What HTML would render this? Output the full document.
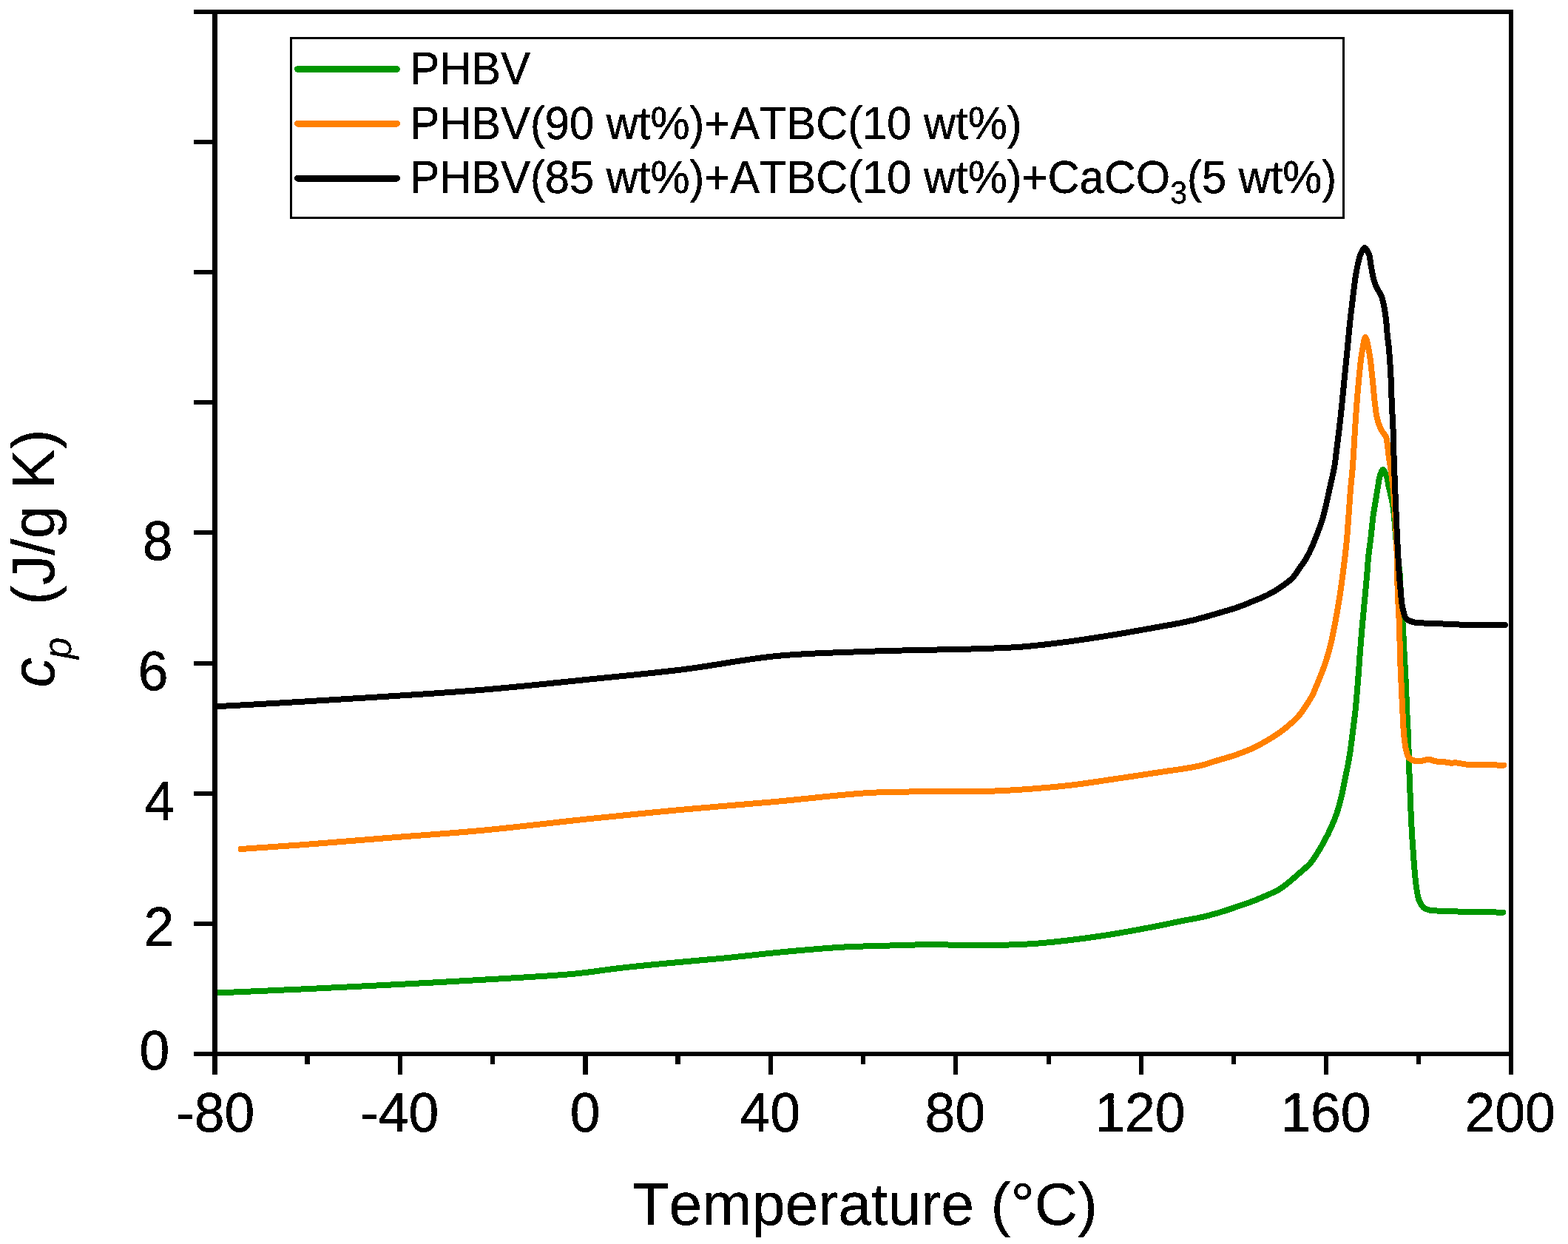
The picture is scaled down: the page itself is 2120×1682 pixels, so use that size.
<!DOCTYPE html>
<html lang="en"><head><meta charset="utf-8"><title>Specific heat capacity of PHBV blends</title>
<style>
html,body{margin:0;padding:0;background:#fff;}
body{width:2120px;height:1682px;overflow:hidden;}
svg{display:block;}
text{font-family:"Liberation Sans",Arial,Helvetica,sans-serif;fill:#000;font-kerning:none;font-variant-ligatures:none;text-rendering:geometricPrecision;}
.tk{font-size:73.33px;stroke:#000;stroke-width:0.5px;}
.lg{font-size:59.67px;stroke:#000;stroke-width:0.4px;}
.ax{font-size:80.7px;stroke:#000;stroke-width:0.3px;}
.c{fill:none;stroke-width:8;stroke-linejoin:round;stroke-linecap:round;}
</style></head><body>
<svg xmlns="http://www.w3.org/2000/svg" width="2120" height="1682" viewBox="0 0 2120 1682">
<rect x="0" y="0" width="2120" height="1682" fill="#fff"/>

<defs><filter id="bw" x="-10%" y="-10%" width="120%" height="120%" color-interpolation-filters="sRGB"><feComponentTransfer><feFuncA type="discrete" tableValues="0 1"/></feComponentTransfer></filter></defs>
<defs><clipPath id="plot"><rect x="287" y="16.0" width="1759" height="1409.0"/></clipPath></defs>
<g clip-path="url(#plot)" shape-rendering="crispEdges">
<path class="c" stroke="#009600" d="M288.0,1342.7 C329.3,1340.9 370.0,1339.3 412.0,1337.3 C455.3,1335.3 500.0,1333.0 544.0,1330.7 C588.0,1328.4 635.2,1325.9 676.0,1323.4 C711.4,1321.2 745.4,1319.6 775.0,1316.8 C799.3,1314.5 819.0,1311.1 841.0,1308.6 C863.0,1306.1 884.4,1304.1 907.0,1302.0 C930.7,1299.7 955.2,1297.8 980.0,1295.4 C1005.8,1292.9 1032.4,1289.6 1059.0,1287.1 C1086.2,1284.6 1117.6,1281.8 1141.6,1280.5 C1160.2,1279.5 1173.3,1279.4 1191.0,1278.9 C1211.4,1278.3 1235.0,1277.3 1257.0,1277.2 C1279.0,1277.1 1301.0,1278.3 1323.0,1278.2 C1345.0,1278.1 1370.8,1277.5 1389.0,1276.5 C1401.9,1275.8 1409.1,1275.2 1422.0,1273.9 C1440.2,1272.0 1466.0,1268.9 1488.0,1265.6 C1510.1,1262.3 1534.3,1257.9 1554.3,1254.1 C1571.0,1251.0 1587.2,1247.3 1600.0,1244.8 C1609.2,1243.0 1615.9,1242.1 1623.8,1240.3 C1631.8,1238.5 1639.7,1236.4 1647.6,1234.1 C1655.6,1231.8 1663.5,1229.0 1671.4,1226.3 C1679.3,1223.6 1687.7,1220.9 1695.1,1218.0 C1701.9,1215.4 1708.3,1212.5 1714.2,1209.9 C1719.3,1207.6 1723.8,1205.9 1728.4,1203.2 C1733.3,1200.3 1738.0,1196.5 1742.7,1192.8 C1747.6,1188.9 1752.3,1184.6 1757.0,1180.4 C1761.8,1176.2 1767.4,1171.9 1771.3,1167.5 C1774.6,1163.8 1776.5,1160.6 1779.3,1156.3 C1782.8,1150.9 1787.0,1143.7 1790.5,1137.3 C1793.9,1131.0 1797.1,1124.6 1800.0,1118.2 C1802.8,1111.9 1805.4,1105.4 1807.6,1099.0 C1809.7,1092.7 1811.3,1086.9 1813.0,1080.0 C1815.0,1071.9 1816.8,1061.4 1818.5,1053.2 C1819.9,1046.3 1821.3,1040.6 1822.5,1034.2 C1823.7,1027.9 1824.7,1021.5 1825.7,1015.1 C1826.6,1008.8 1827.3,1003.5 1828.2,996.1 C1829.5,985.6 1831.5,970.8 1832.8,958.1 C1834.1,945.4 1835.1,932.5 1836.1,920.0 C1837.1,907.9 1837.8,896.3 1838.7,884.2 C1839.7,871.7 1840.7,858.8 1841.8,846.1 C1842.9,833.4 1844.3,820.3 1845.4,808.1 C1846.5,796.7 1847.6,784.9 1848.4,775.0 C1849.1,767.0 1849.4,760.2 1850.1,753.2 C1850.8,746.6 1851.7,740.5 1852.5,734.2 C1853.3,727.8 1854.0,721.5 1854.7,715.1 C1855.4,708.8 1855.9,702.4 1856.8,696.1 C1857.7,689.8 1858.9,683.4 1859.9,677.1 C1860.9,670.8 1862.0,664.0 1863.0,658.1 C1863.9,653.0 1864.3,647.9 1865.6,643.8 C1866.7,640.4 1868.4,635.0 1869.9,635.0 C1871.4,635.0 1873.4,640.4 1874.7,643.8 C1876.2,647.9 1876.6,653.0 1877.7,658.1 C1879.0,664.0 1880.8,670.7 1882.0,677.1 C1883.2,683.4 1884.1,689.8 1884.8,696.1 C1885.5,702.4 1885.7,707.8 1886.3,715.1 C1887.1,725.0 1888.3,738.8 1889.5,750.0 C1890.6,760.3 1892.3,771.0 1893.0,779.8 C1893.5,786.7 1893.3,790.8 1893.7,798.5 C1894.3,810.7 1895.9,831.1 1896.8,846.1 C1897.6,859.5 1898.0,871.3 1898.7,884.2 C1899.4,897.6 1900.3,912.1 1900.9,925.0 C1901.4,936.6 1901.6,946.7 1902.1,958.1 C1902.6,970.3 1903.5,983.4 1904.0,996.1 C1904.5,1008.8 1904.8,1023.7 1905.1,1034.2 C1905.3,1041.6 1905.5,1046.3 1905.8,1053.2 C1906.1,1061.4 1906.4,1070.3 1906.8,1080.0 C1907.3,1091.6 1907.8,1105.4 1908.5,1118.1 C1909.2,1130.8 1910.1,1144.3 1911.0,1156.1 C1911.7,1166.3 1912.4,1176.1 1913.3,1184.7 C1914.0,1191.7 1914.6,1197.8 1915.6,1203.7 C1916.5,1208.8 1917.2,1214.0 1918.9,1218.0 C1920.3,1221.3 1921.8,1224.4 1924.1,1226.5 C1926.2,1228.4 1929.0,1229.5 1931.8,1230.3 C1934.7,1231.2 1937.6,1231.1 1941.3,1231.4 C1946.5,1231.8 1953.7,1231.7 1960.3,1232.0 C1967.4,1232.3 1973.6,1232.7 1982.5,1233.0 C1995.7,1233.4 2015.5,1233.4 2032.0,1233.6"/>
<path class="c" stroke="#ff8000" d="M325.5,1148.0 C354.3,1146.0 380.9,1144.3 412.0,1142.0 C448.3,1139.3 490.1,1135.7 530.0,1132.5 C571.1,1129.2 611.8,1126.6 655.0,1122.5 C701.6,1118.1 753.4,1111.6 800.0,1106.8 C843.2,1102.3 883.3,1098.3 925.0,1094.5 C966.7,1090.7 1008.3,1087.5 1050.0,1083.8 C1091.7,1080.0 1138.6,1074.1 1175.0,1072.0 C1203.1,1070.4 1224.6,1070.6 1250.0,1070.3 C1276.2,1070.0 1306.1,1070.6 1330.0,1070.0 C1349.3,1069.5 1364.3,1068.7 1382.5,1067.5 C1402.4,1066.1 1424.2,1064.4 1445.0,1062.0 C1465.9,1059.6 1486.7,1056.3 1507.5,1053.2 C1528.3,1050.2 1552.9,1046.3 1570.0,1043.8 C1581.8,1042.0 1590.6,1041.0 1600.0,1039.4 C1608.4,1038.0 1615.9,1036.9 1623.8,1035.0 C1631.8,1033.0 1639.7,1030.1 1647.6,1027.7 C1655.5,1025.3 1663.5,1023.3 1671.4,1020.5 C1679.4,1017.7 1687.7,1014.5 1695.1,1011.0 C1701.9,1007.8 1707.9,1004.4 1714.2,1000.6 C1720.6,996.8 1727.4,992.5 1733.2,988.2 C1738.4,984.3 1743.3,980.2 1747.5,976.3 C1751.1,973.0 1753.7,970.6 1757.0,966.6 C1761.3,961.4 1767.0,952.5 1770.3,947.1 C1772.6,943.4 1774.1,940.8 1775.6,937.6 C1777.1,934.5 1778.2,931.3 1779.5,928.1 C1780.8,924.9 1782.1,922.1 1783.5,918.5 C1785.3,914.0 1787.6,908.6 1789.5,903.2 C1791.6,897.2 1793.8,890.6 1795.7,884.2 C1797.5,877.9 1799.1,871.5 1800.6,865.1 C1802.0,858.8 1803.0,853.5 1804.4,846.1 C1806.4,835.6 1809.2,820.3 1811.1,808.1 C1812.9,796.7 1814.2,786.6 1815.7,775.0 C1817.4,762.1 1819.2,747.6 1820.5,734.2 C1821.8,721.3 1822.5,708.8 1823.5,696.1 C1824.5,683.4 1825.3,669.8 1826.3,658.1 C1827.2,648.0 1828.2,640.4 1829.0,629.8 C1830.0,616.4 1830.9,598.7 1831.8,584.2 C1832.7,570.9 1833.4,558.8 1834.4,546.1 C1835.4,533.4 1836.5,520.2 1837.7,508.1 C1838.8,496.9 1839.9,485.4 1841.5,476.0 C1842.8,468.5 1844.5,456.0 1846.1,456.0 C1847.7,456.0 1849.8,468.5 1851.2,476.0 C1853.0,485.4 1853.9,496.9 1855.2,508.1 C1856.6,520.2 1857.7,535.6 1859.0,546.1 C1859.9,553.5 1860.6,559.9 1861.8,565.1 C1862.6,568.9 1863.5,571.6 1864.7,574.7 C1866.0,577.9 1867.7,581.4 1869.4,584.2 C1870.8,586.7 1872.8,588.1 1873.9,590.8 C1875.3,594.2 1875.5,598.9 1876.1,603.2 C1876.8,607.8 1877.1,613.2 1877.7,617.5 C1878.2,621.0 1878.7,622.9 1879.3,627.0 C1880.4,634.4 1882.3,647.2 1883.4,658.1 C1884.6,670.1 1885.5,683.4 1886.3,696.1 C1887.1,708.8 1887.7,721.3 1888.2,734.2 C1888.7,747.6 1888.8,762.1 1889.1,775.0 C1889.4,786.6 1889.6,796.7 1890.1,808.1 C1890.6,820.3 1891.5,833.4 1892.0,846.1 C1892.5,858.8 1892.5,871.3 1892.9,884.2 C1893.3,897.6 1894.0,912.1 1894.6,925.0 C1895.1,936.6 1895.6,946.7 1896.2,958.1 C1896.8,970.3 1897.3,985.6 1898.4,996.1 C1899.2,1003.5 1899.9,1009.9 1901.3,1015.1 C1902.3,1018.9 1903.0,1022.4 1905.1,1024.7 C1907.0,1026.8 1909.9,1028.0 1912.7,1028.7 C1915.6,1029.4 1919.0,1029.0 1922.2,1028.7 C1925.4,1028.4 1928.5,1026.7 1931.7,1026.8 C1934.9,1026.9 1938.1,1028.9 1941.3,1029.4 C1944.4,1029.9 1947.6,1029.6 1950.8,1029.9 C1954.0,1030.2 1957.1,1031.2 1960.3,1031.5 C1963.5,1031.8 1966.4,1031.2 1969.8,1031.5 C1973.7,1031.8 1977.8,1033.1 1982.5,1033.6 C1988.2,1034.2 1994.4,1034.0 2001.6,1034.2 C2010.8,1034.4 2022.5,1034.5 2033.0,1034.6"/>
<path class="c" stroke="#000" d="M288.0,955.2 C295.7,954.9 300.6,954.8 311.0,954.3 C332.8,953.2 377.0,950.6 412.0,948.5 C449.8,946.3 490.1,943.9 530.0,941.2 C571.1,938.6 611.8,936.1 655.0,932.5 C701.6,928.6 753.5,923.0 800.0,918.2 C843.2,913.8 883.4,910.2 925.0,905.0 C966.7,899.8 1008.2,891.0 1050.0,887.0 C1091.6,883.0 1131.1,882.4 1175.0,880.8 C1223.9,878.9 1292.0,878.4 1330.0,877.0 C1352.1,876.2 1364.3,876.0 1382.5,874.5 C1402.5,872.9 1424.2,870.2 1445.0,867.5 C1465.9,864.7 1486.7,861.4 1507.5,858.0 C1528.4,854.6 1553.0,850.1 1570.0,847.0 C1581.8,844.9 1590.6,843.5 1600.0,841.5 C1608.4,839.7 1615.9,837.9 1623.8,835.8 C1631.8,833.7 1639.7,831.2 1647.6,828.9 C1655.5,826.6 1663.5,824.5 1671.4,821.8 C1679.4,819.1 1687.7,815.6 1695.1,812.5 C1701.8,809.7 1707.9,807.4 1714.2,804.2 C1720.7,800.9 1727.4,796.8 1733.2,792.8 C1738.4,789.2 1743.4,785.7 1747.5,781.4 C1751.5,777.2 1754.4,771.8 1757.5,767.5 C1760.1,763.8 1762.7,760.5 1764.8,757.1 C1766.7,754.0 1768.3,751.0 1769.8,748.0 C1771.2,745.3 1772.3,742.9 1773.6,740.0 C1775.1,736.5 1776.9,732.3 1778.4,728.5 C1779.9,724.7 1781.2,721.3 1782.7,717.1 C1784.6,712.0 1786.7,707.0 1788.7,700.0 C1791.8,689.2 1795.5,670.7 1798.3,658.1 C1800.6,647.8 1803.0,638.1 1804.4,629.8 C1805.5,623.4 1805.8,619.1 1806.6,612.7 C1807.7,604.4 1809.0,594.4 1810.2,584.2 C1811.6,572.4 1813.1,558.8 1814.4,546.1 C1815.7,533.4 1816.9,520.7 1818.1,508.1 C1819.3,495.7 1820.8,481.1 1821.8,471.0 C1822.5,464.0 1822.9,459.2 1823.5,453.2 C1824.1,447.0 1824.7,440.5 1825.4,434.2 C1826.1,427.8 1826.8,421.5 1827.6,415.1 C1828.3,408.8 1829.1,402.4 1829.9,396.1 C1830.7,389.8 1831.3,383.4 1832.3,377.1 C1833.3,370.8 1834.4,364.0 1835.7,358.1 C1836.8,353.0 1837.7,347.9 1839.5,343.8 C1841.0,340.4 1843.3,335.0 1845.2,335.0 C1847.1,335.0 1849.5,340.4 1850.9,343.8 C1852.5,347.9 1852.5,353.3 1853.4,358.1 C1854.3,362.8 1855.2,368.1 1856.1,372.3 C1856.9,375.8 1857.4,378.7 1858.5,381.8 C1859.6,385.0 1861.3,388.4 1862.8,391.4 C1864.2,394.1 1866.0,396.5 1867.1,399.0 C1868.1,401.2 1868.7,403.2 1869.4,405.6 C1870.2,408.5 1870.8,411.4 1871.5,415.1 C1872.5,420.4 1873.5,427.8 1874.2,434.2 C1874.9,440.5 1875.2,447.0 1875.8,453.2 C1876.4,459.2 1877.2,464.0 1877.9,471.0 C1878.8,481.1 1879.8,495.7 1880.4,508.1 C1881.1,520.7 1881.3,533.4 1881.8,546.1 C1882.4,558.8 1883.3,572.4 1883.7,584.2 C1884.1,594.4 1884.1,602.1 1884.4,612.7 C1884.8,626.1 1885.5,643.6 1886.1,658.1 C1886.6,671.3 1887.2,683.4 1887.7,696.1 C1888.3,708.8 1888.7,721.3 1889.4,734.2 C1890.1,747.6 1890.9,763.3 1891.7,775.0 C1892.3,783.9 1893.0,791.1 1893.7,798.5 C1894.3,805.2 1894.8,812.4 1895.6,817.6 C1896.2,821.3 1896.8,824.0 1897.7,827.1 C1898.7,830.3 1899.0,834.2 1901.3,836.6 C1903.8,839.2 1908.3,840.5 1912.7,841.5 C1918.2,842.8 1924.8,842.3 1931.8,842.7 C1940.4,843.1 1952.4,843.5 1960.3,843.9 C1966.0,844.2 1969.5,844.4 1975.0,844.6 C1982.2,844.8 1991.0,844.9 2000.0,845.0 C2010.7,845.1 2023.3,845.0 2035.0,845.0"/>
</g>
<g fill="#000" shape-rendering="crispEdges">
<rect x="262" y="13" width="1784" height="6"/>
<rect x="262" y="1422" width="1784" height="6"/>
<rect x="287" y="13" width="7" height="1440"/>
<rect x="2040" y="13" width="6" height="1440"/>
<rect x="412" y="1425" width="7" height="14"/>
<rect x="538" y="1425" width="6" height="28"/>
<rect x="663" y="1425" width="6" height="14"/>
<rect x="788" y="1425" width="7" height="28"/>
<rect x="913" y="1425" width="7" height="14"/>
<rect x="1039" y="1425" width="6" height="28"/>
<rect x="1164" y="1425" width="6" height="14"/>
<rect x="1289" y="1425" width="6" height="28"/>
<rect x="1415" y="1425" width="6" height="14"/>
<rect x="1540" y="1425" width="6" height="28"/>
<rect x="1665" y="1425" width="6" height="14"/>
<rect x="1790" y="1425" width="6" height="28"/>
<rect x="1915" y="1425" width="6" height="14"/>
<rect x="262" y="1246" width="26" height="6"/>
<rect x="262" y="1070" width="26" height="6"/>
<rect x="262" y="894" width="26" height="6"/>
<rect x="262" y="717" width="26" height="6"/>
<rect x="262" y="541" width="26" height="6"/>
<rect x="262" y="365" width="26" height="6"/>
<rect x="262" y="189" width="26" height="6"/>
</g>
<rect x="393.5" y="51.5" width="1423" height="243" fill="#fff" stroke="#000" stroke-width="3" shape-rendering="crispEdges"/>
<line x1="402.5" y1="93.5" x2="536.5" y2="93.5" stroke="#009600" stroke-width="9" stroke-linecap="round" shape-rendering="crispEdges"/>
<line x1="402.5" y1="167" x2="536.5" y2="167" stroke="#ff8000" stroke-width="9" stroke-linecap="round" shape-rendering="crispEdges"/>
<line x1="402.5" y1="241" x2="536.5" y2="241" stroke="#000" stroke-width="9" stroke-linecap="round" shape-rendering="crispEdges"/>
<g filter="url(#bw)">
<text class="tk" transform="translate(291.2,1529.7) scale(1,1.025)" text-anchor="middle">-80</text>
<text class="tk" transform="translate(540.3,1529.7) scale(1,1.025)" text-anchor="middle">-40</text>
<text class="tk" transform="translate(791.2,1529.7) scale(1,1.025)" text-anchor="middle">0</text>
<text class="tk" transform="translate(1041.3,1529.7) scale(1,1.025)" text-anchor="middle">40</text>
<text class="tk" transform="translate(1291.3,1529.7) scale(1,1.025)" text-anchor="middle">80</text>
<text class="tk" transform="translate(1541.4,1529.7) scale(1,1.025)" text-anchor="middle">120</text>
<text class="tk" transform="translate(1792.4,1529.7) scale(1,1.025)" text-anchor="middle">160</text>
<text class="tk" transform="translate(2041.6,1529.7) scale(1,1.025)" text-anchor="middle">200</text>
<text class="tk" transform="translate(188.5,1445.8) scale(1,1.025)">0</text>
<text class="tk" transform="translate(194.5,1279.1) scale(1,1.025)">2</text>
<text class="tk" transform="translate(195.5,1109.2) scale(1,1.025)">4</text>
<text class="tk" transform="translate(186.7,933) scale(1,1.025)">6</text>
<text class="tk" transform="translate(192.8,757) scale(1,1.025)">8</text>
<text class="ax" transform="translate(855.2,1656) scale(1,1.0)">Temperature (°C)</text>
<g transform="translate(73.75,0) rotate(-90) scale(1,1.02)"><text class="ax" x="-929.5" y="0" font-style="italic">c</text><text x="-891.1" y="21.6" font-size="53" font-style="italic">p</text><text class="ax" x="-817.9" y="0">(J/g K)</text></g>
<text class="lg" transform="translate(554.5,114) scale(1,1.045)">PHBV</text>
<text class="lg" transform="translate(554.5,187.6) scale(1,1.045)">PHBV(90 wt%)+ATBC(10 wt%)</text>
<text class="lg" transform="translate(554.5,261.2) scale(1,1.045)">PHBV(85 wt%)+ATBC(10 wt%)+CaCO<tspan font-size="41" dy="13.5">3</tspan><tspan dy="-13.5">(5 wt%)</tspan></text>
</g>
</svg></body></html>
